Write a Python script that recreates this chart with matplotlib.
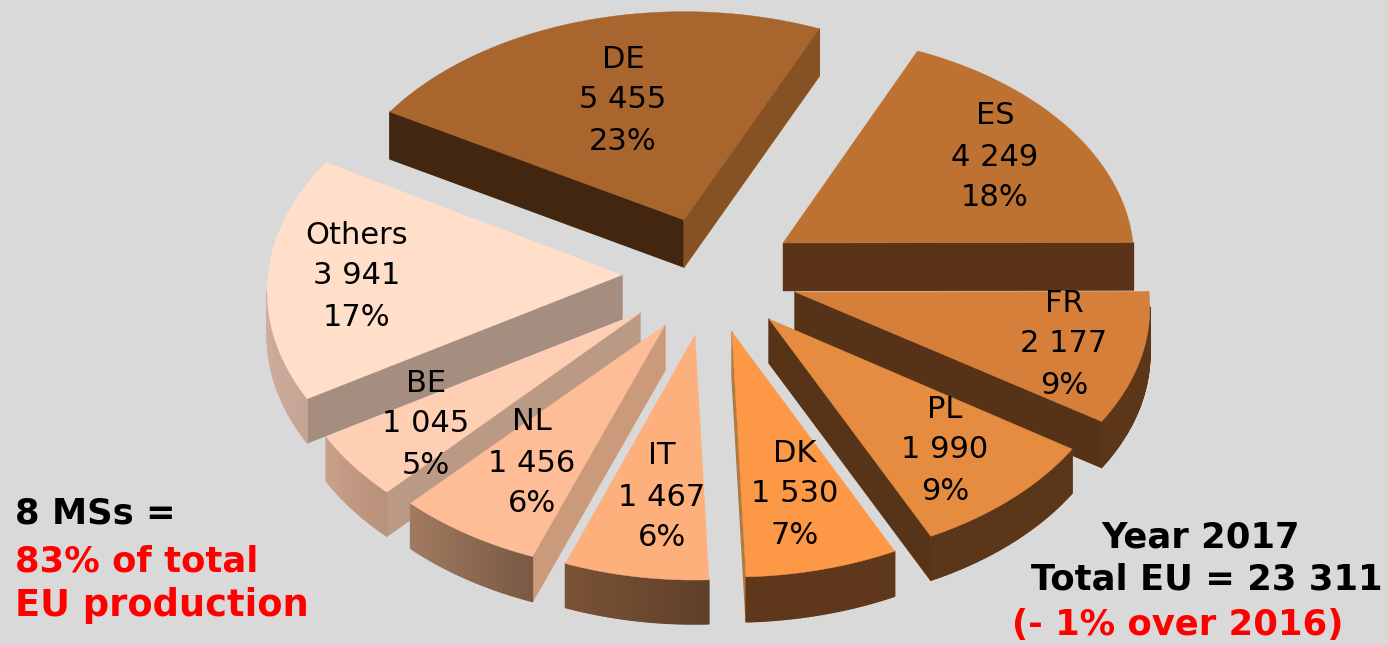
import numpy as np
import matplotlib
matplotlib.use('Agg')
import matplotlib.pyplot as plt
from matplotlib.collections import PolyCollection
from matplotlib.colors import to_rgb

# data
countries = ['DE', 'ES', 'FR', 'PL', 'DK', 'IT', 'NL', 'BE', 'Others']
production = [5455, 4249, 2177, 1990, 1530, 1467, 1456, 1045, 3941]
number_labels = ['5 455', '4 249', '2 177', '1 990', '1 530', '1 467', '1 456', '1 045', '3 941']
pct_labels = ['23%', '18%', '9%', '9%', '7%', '6%', '6%', '5%', '17%']

# look of each slice, same order as countries (all in pixels of the picture)
apex = [(684, 220), (783, 243), (795, 292), (769, 319), (732, 332),
        (695, 335), (665, 325), (640, 313), (622, 275)]
radius_x = [352, 350, 354, 350, 352, 347, 355, 353, 354]
radius_y = [224, 225, 226, 227, 229, 229, 232, 233, 233]
depth = [47, 47, 46, 44, 45, 44, 45, 44, 44]
top_col = ['#A9652E', '#BE7232', '#D57F3B', '#E58C40', '#FD9946',
           '#FDAF7C', '#FEBD97', '#FFCFB4', '#FFDFCA']
start_col = ['#42260F', '#5A3318', '#553218', '#573418', '#63391A',
             '#7A5238', '#CB9A7A', '#BB9A85', '#A58D80']
end_col = ['#865123', '#5A3318', '#553218', '#573418', '#B07A45',
           '#C89A70', '#CB9A7A', '#BB9A85', '#A58D80']
arc_col_a = ['#42260F', '#5A3318', '#5C3619', '#5C3619', '#5F381C',
             '#5F4028', '#7A5A45', '#B8917B', '#C5A595']
arc_col_b = ['#42260F', '#5A3318', '#5C3619', '#5C3619', '#5F381C',
             '#7A5238', '#A17A60', '#C9A08A', '#DAB9A5']
label_x = [623, 995, 1064, 945, 795, 662, 532, 426, 357]
label_y = [59, 116, 303, 409, 453, 456, 422, 383, 235]
draw_order = [0, 1, 8, 2, 7, 3, 6, 4, 5]
start_angle = 150
perspective = 0.07   # far side of the pie is drawn a bit smaller

fig = plt.figure(figsize=(13.88, 6.45), dpi=100, facecolor='#D9D9D9')
ax = fig.add_axes([0, 0, 1, 1])
ax.set_xlim(0, 1388)
ax.set_ylim(645, 0)
ax.axis('off')

sweep = np.array(production) / sum(production) * 360
a_start = start_angle - np.concatenate(([0], np.cumsum(sweep)[:-1]))
a_end = a_start - sweep


def mix(c1, c2, t):
    c1, c2 = np.array(to_rgb(c1)), np.array(to_rgb(c2))
    return tuple(c1 + (c2 - c1) * t)


def draw_slice(i, z):
    ax0, ay0 = apex[i]
    th = np.radians(np.linspace(a_start[i], a_end[i], 60))
    scale = 1 - perspective * np.sin(th)
    xs = ax0 + radius_x[i] * scale * np.cos(th)
    ys = ay0 - radius_y[i] * scale * np.sin(th)
    pts = np.column_stack((xs, ys))
    d = depth[i]

    quads, cols = [], []

    def add(a, b, col):
        # only faces that turn towards the viewer, i.e. edge runs to the left
        if b[0] < a[0]:
            quads.append([a, b, (b[0], b[1] + d), (a[0], a[1] + d)])
            cols.append(col)

    add((ax0, ay0), pts[0], start_col[i])
    add(pts[-1], (ax0, ay0), end_col[i])
    for k in range(len(pts) - 1):
        add(pts[k], pts[k + 1], mix(arc_col_a[i], arc_col_b[i], k / (len(pts) - 2)))

    if quads:
        ax.add_collection(PolyCollection(quads, facecolors=cols, edgecolors=cols,
                                         linewidths=1.0, zorder=z))
    top = np.vstack(([(ax0, ay0)], pts))
    ax.fill(top[:, 0], top[:, 1], color=top_col[i], lw=0.3, zorder=z + 0.5)


for n, i in enumerate(draw_order):
    draw_slice(i, 2 + n)

for i in range(len(countries)):
    for j, s in enumerate([countries[i], number_labels[i], pct_labels[i]]):
        ax.text(label_x[i], label_y[i] + j * 41, s, fontsize=22, color='black',
                ha='center', va='center', family='DejaVu Sans', zorder=30)

ax.text(15, 514, '8 MSs =', fontsize=25.5, fontweight='bold', color='black', va='center', zorder=30)
ax.text(15, 562, '83% of total', fontsize=25.5, fontweight='bold', color='red', va='center', zorder=30)
ax.text(15, 606, 'EU production', fontsize=26.5, fontweight='bold', color='red', va='center', zorder=30)
ax.text(1201, 538, 'Year 2017', fontsize=25.5, fontweight='bold', color='black', ha='center', va='center', zorder=30)
ax.text(1383, 580, 'Total EU = 23 311', fontsize=25.5, fontweight='bold', color='black', ha='right', va='center', zorder=30)
ax.text(1012, 625, '(- 1% over 2016)', fontsize=25.5, fontweight='bold', color='red', va='center', zorder=30)

fig.savefig('out.png', dpi=100, facecolor=fig.get_facecolor())
